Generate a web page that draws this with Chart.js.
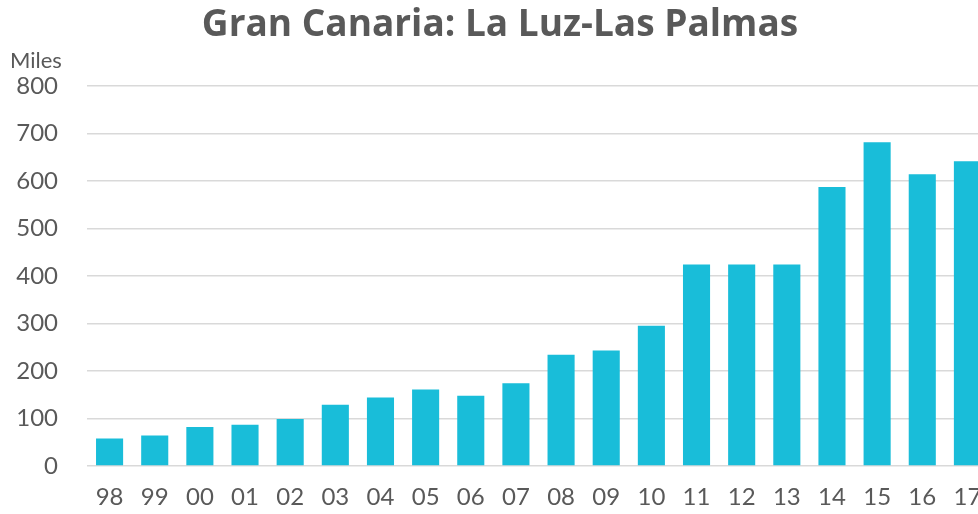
<!DOCTYPE html>
<html>
<head>
<meta charset="utf-8">
<script src="https://cdn.jsdelivr.net/npm/chart.js@4"></script>
<style>
    html, body { margin: 0; padding: 0; background: #ffffff; overflow: hidden; }
    #wrap { width: 1000px; height: 514px; }
</style>
</head>
<body>
<div id="wrap"><canvas id="portChart"></canvas></div>
<script>
// ===== 数据 =====
const years = ["98", "99", "00", "01", "02", "03", "04", "05", "06", "07",
               "08", "09", "10", "11", "12", "13", "14", "15", "16", "17"];
const teus = [58, 64, 82, 87, 99, 129, 144, 161, 148, 174,
              234, 243, 295, 424, 424, 424, 587, 681, 614, 641];
const yTicks = { min: 0, max: 800, step: 100 };

const textGrey = "#595959";

// ===== 图表 =====
const ctx = document.getElementById("portChart").getContext("2d");
const portChart = new Chart(ctx, {
    type: "bar",
    data: {
        labels: years,
        datasets: [{
            label: "Miles",
            data: teus,
            backgroundColor: "#19bdd9",
            barPercentage: 0.6,
            categoryPercentage: 1
        }]
    },
    options: {
        responsive: true,
        maintainAspectRatio: false,
        animation: false,
        layout: { padding: { left: 10, right: 10, top: 3, bottom: 0 } },
        plugins: {
            legend: { display: false },
            tooltip: { enabled: false },
            title: {
                display: true,
                text: "Gran Canaria: La Luz-Las Palmas",
                color: textGrey,
                font: { family: "Open Sans", size: 37, weight: "bold" },
                padding: { top: 0, bottom: 0 }
            },
            subtitle: {
                display: true,
                text: "Miles",
                align: "start",
                color: textGrey,
                font: { family: "Lato", size: 22 },
                padding: { top: 0, bottom: 12 }
            }
        },
        scales: {
            x: {
                grid: { display: false },
                border: { display: false },
                ticks: {
                    color: textGrey,
                    font: { family: "Lato", size: 24 },
                    padding: 9,
                    maxRotation: 0,
                    autoSkip: false
                },
                afterFit(axis) { axis.height = 48; }
            },
            y: {
                min: yTicks.min,
                max: yTicks.max,
                border: { display: false },
                grid: { color: "#d9d9d9", lineWidth: 1.5, drawTicks: false },
                ticks: {
                    stepSize: yTicks.step,
                    color: textGrey,
                    font: { family: "Lato", size: 24 },
                    padding: 29
                },
                afterFit(axis) { axis.width = 77; }
            }
        }
    }
});
</script>
</body>
</html>
